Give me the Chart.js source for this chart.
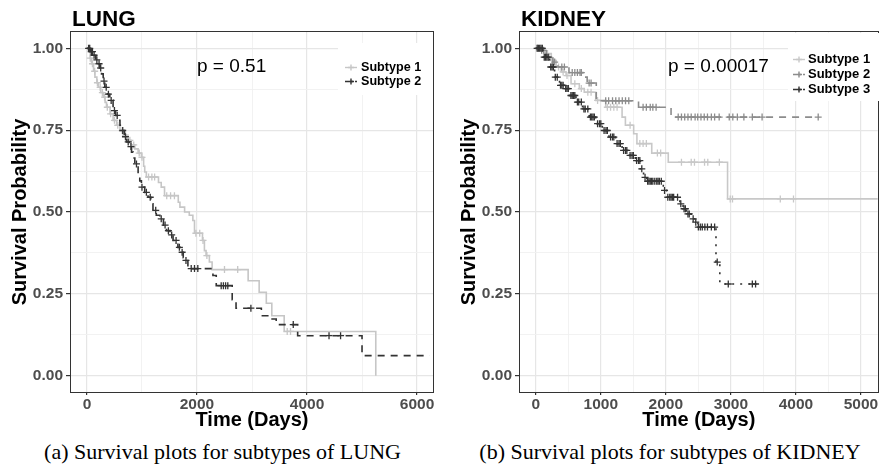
<!DOCTYPE html>
<html>
<head>
<meta charset="utf-8">
<script src="https://cdn.jsdelivr.net/npm/chart.js@4/dist/chart.umd.min.js"></script>
<style>
  body { margin: 0; background: #fff; width: 883px; height: 468px; position: relative; overflow: hidden; }
  .box { position: absolute; top: 0; }
  .box canvas { display: block; }
  .cap { position: absolute; top: 440px; font: 22px "Liberation Serif", serif; line-height: 24px; text-align: center; white-space: nowrap; color: #000; }
</style>
</head>
<body>
<div class="box" style="left:0"><canvas id="lung" width="441" height="434"></canvas></div>
<div class="box" style="left:441px"><canvas id="kidney" width="442" height="434"></canvas></div>
<div class="cap" style="left:0;width:445px">(a) Survival plots for subtypes of LUNG</div>
<div class="cap" style="left:449px;width:442px">(b) Survival plots for subtypes of KIDNEY</div>
<script>
// ---- LUNG ----
const lungS1Time = [0,25,60,85,120,145,180,205,250,295,330,355,420,475,540,600,660,720,800,870,930,990,1030,1050,1080,1300,1350,1410,1660,1690,1775,1860,1925,1955,2100,2135,2165,2225,2275,2930,3130,3260,3360,3585,5250];
const lungS1Surv = [1,0.99,0.97,0.953,0.93,0.912,0.895,0.881,0.865,0.851,0.835,0.82,0.80,0.78,0.765,0.749,0.735,0.719,0.705,0.693,0.68,0.667,0.64,0.622,0.607,0.59,0.576,0.55,0.53,0.515,0.5,0.49,0.474,0.435,0.413,0.382,0.367,0.347,0.324,0.29,0.255,0.221,0.183,0.135,0];
const lungS1Cens = [60,100,140,190,240,280,320,370,430,500,560,640,700,780,850,950,1000,1120,1180,1230,1450,1520,1590,1980,2050,2110,2180,2500,2740,3640,3700];

const lungS2Time = [0,60,115,160,205,235,265,295,325,370,415,475,520,570,600,630,680,720,770,810,840,870,930,960,990,1050,1110,1160,1200,1260,1325,1390,1445,1510,1565,1653,1714,1750,1774,1835,2290,2350,2640,2710,3170,3350,3440,3830,5000,6230];
const lungS2Surv = [1,0.99,0.979,0.965,0.953,0.94,0.922,0.9,0.881,0.86,0.841,0.81,0.795,0.78,0.765,0.749,0.73,0.714,0.7,0.683,0.665,0.647,0.616,0.595,0.576,0.56,0.545,0.525,0.505,0.49,0.479,0.46,0.443,0.43,0.413,0.392,0.377,0.36,0.352,0.327,0.306,0.275,0.232,0.206,0.183,0.173,0.156,0.122,0.061,0.061];
const lungS2Cens = [30,50,80,100,130,180,220,250,310,350,390,440,500,550,650,700,750,800,900,1000,1080,1150,1250,1350,1420,1480,1540,1620,1680,1730,1800,1895,1955,2015,2440,2480,2520,2560,2980,3750,4400,4610];

// ---- KIDNEY ----
const kidS1Time = [0,137,238,314,390,466,542,669,745,922,1075,1327,1378,1505,1555,1783,2037,2949,5300];
const kidS1Surv = [1,0.984,0.963,0.943,0.928,0.917,0.892,0.877,0.866,0.841,0.82,0.79,0.765,0.739,0.709,0.68,0.652,0.54,0.54];
const kidS1Cens = [60,100,180,260,350,420,480,600,700,800,850,950,1100,1150,1200,1250,1450,1600,1650,1700,1870,1920,2240,2390,2440,2595,2645,2823,2990,3025,3760,3963];

const kidS2Time = [0,61,162,263,340,510,745,790,930,1580,2080,4343];
const kidS2Surv = [1,0.994,0.973,0.958,0.943,0.926,0.912,0.894,0.84,0.82,0.79,0.79];
const kidS2Cens = [30,90,120,200,290,400,440,560,600,640,680,700,820,850,1075,1120,1180,1230,1280,1330,1380,1430,1650,1700,1760,1800,1850,2190,2240,2290,2340,2390,2450,2490,2540,2590,2640,2700,2750,2820,2975,3030,3100,3200,3330,3480,4343];

const kidS3Time = [0,111,213,289,365,441,517,618,719,821,922,1023,1125,1227,1327,1429,1530,1606,1657,1707,1961,2011,2215,2265,2316,2391,2442,2493,2771,2830,3404];
const kidS3Surv = [1,0.973,0.943,0.912,0.887,0.877,0.856,0.836,0.815,0.79,0.77,0.749,0.729,0.709,0.688,0.673,0.657,0.632,0.606,0.594,0.566,0.545,0.525,0.51,0.494,0.479,0.469,0.454,0.347,0.28,0.28];
const kidS3Cens = [20,40,60,80,100,130,150,170,190,230,250,270,300,330,380,400,420,460,480,500,540,560,580,600,640,660,700,740,760,800,840,860,880,900,950,980,1000,1050,1080,1100,1150,1180,1200,1250,1280,1300,1350,1380,1400,1450,1480,1500,1550,1580,1600,1630,1680,1720,1740,1760,1780,1800,1830,1860,1880,1900,1930,1980,2030,2060,2080,2100,2120,2180,2230,2280,2300,2340,2360,2420,2460,2500,2530,2560,2600,2640,2700,2750,2790,2960,3330,3380];

const yTicks = [0,0.125,0.25,0.375,0.5,0.625,0.75,0.875,1];
const lungXTicks = [0,1000,2000,3000,4000,5000,6000];
const kidXTicks = [0,500,1000,1500,2000,2500,3000,3500,4000,4500,5000];

const FONT = '"Liberation Sans", Arial, sans-serif';

function survAt(times, surv, t) {
  let s = surv[0];
  for (let i = 0; i < times.length; i++) if (times[i] <= t) s = surv[i];
  return s;
}

function curveSets(groups) {
  const sets = [];
  groups.forEach(g => {
    sets.push({
      type: 'line', label: g.label, isCurve: true,
      data: g.time.map((t, i) => ({ x: t, y: g.surv[i] })),
      borderColor: g.color, borderWidth: 1.6, borderDash: g.dash,
      stepped: true, pointRadius: 0, fill: false
    });
    sets.push({
      type: 'scatter', label: g.label + ' censored',
      data: g.cens.map(t => ({ x: t, y: survAt(g.time, g.surv, t) })),
      pointStyle: 'cross', pointRadius: 3.5, borderWidth: 1.3,
      borderColor: g.color, backgroundColor: g.color, showLine: false
    });
  });
  sets.forEach((s, i) => s.order = sets.length - i);
  return sets;
}

const decor = {
  id: 'decor',
  afterDraw(chart, args, o) {
    const ctx = chart.ctx, a = chart.chartArea;
    ctx.save();
    ctx.setLineDash([]);
    // panel border
    ctx.strokeStyle = '#333';
    ctx.lineWidth = 1;
    ctx.strokeRect(Math.round(a.left) - 0.5, Math.round(a.top) - 0.5,
      Math.round(a.right - a.left) + 1, Math.round(a.bottom - a.top) + 1);
    // title
    ctx.fillStyle = '#000';
    ctx.textAlign = 'left';
    ctx.textBaseline = 'alphabetic';
    ctx.font = 'bold 22.5px ' + FONT;
    ctx.fillText(o.title, a.left + 1, 26);
    // p value
    ctx.font = '19px ' + FONT;
    ctx.fillText(o.pText, o.pX, 72);
    // legend
    const b = o.box;
    ctx.fillStyle = '#fff';
    ctx.fillRect(b[0], b[1], b[2] - b[0], b[3] - b[1]);
    const items = chart.data.datasets.filter(d => d.isCurve);
    ctx.font = 'bold ' + o.legendSize + 'px ' + FONT;
    items.forEach((d, i) => {
      const base = o.legendY + i * o.legendStep;
      const y = Math.round(base - 4.5) + 0.5;
      ctx.strokeStyle = d.borderColor;
      ctx.lineWidth = 1.4;
      ctx.setLineDash(d.borderDash && d.borderDash.length ? [3, 2] : []);
      ctx.beginPath();
      ctx.moveTo(o.keyX - 6, y); ctx.lineTo(o.keyX + 6, y);
      ctx.stroke();
      ctx.setLineDash([]);
      ctx.beginPath();
      ctx.moveTo(o.keyX - 3, y); ctx.lineTo(o.keyX + 3, y);
      ctx.moveTo(o.keyX, y - 3); ctx.lineTo(o.keyX, y + 3);
      ctx.stroke();
      ctx.fillStyle = '#000';
      ctx.fillText(d.label, o.textX, base);
    });
    ctx.restore();
  }
};

function isMajorY(v) { return Math.abs(v * 4 - Math.round(v * 4)) < 1e-9; }

function makeChart(id, groups, xTicks, xMin, xMax, majorStep, padLeft, padRight, decorOpts) {
  const isMajorX = v => v % majorStep === 0;
  new Chart(document.getElementById(id), {
    data: { datasets: curveSets(groups) },
    plugins: [decor],
    options: {
      responsive: false,
      animation: false,
      devicePixelRatio: 1,
      layout: { padding: { left: padLeft, right: padRight, top: 32, bottom: 0 } },
      plugins: { legend: { display: false }, tooltip: { enabled: false }, decor: decorOpts },
      scales: {
        x: {
          type: 'linear', min: xMin, max: xMax,
          afterBuildTicks: s => { s.ticks = xTicks.map(v => ({ value: v })); },
          afterFit: s => { s.height = 42; },
          ticks: {
            autoSkip: false, maxRotation: 0, padding: 0,
            color: '#4d4d4d', font: { family: FONT, size: 15.5, weight: 'bold' },
            callback: v => isMajorX(v) ? String(v) : ''
          },
          grid: {
            color: c => (c.tick && isMajorX(c.tick.value)) ? '#e6e6e6' : '#f1f1f1',
            lineWidth: c => (c.tick && isMajorX(c.tick.value)) ? 1.2 : 0.9,
            tickColor: c => (c.tick && isMajorX(c.tick.value)) ? '#333' : 'rgba(0,0,0,0)',
            tickLength: 3
          },
          border: { display: false },
          title: {
            display: true, text: 'Time (Days)', color: '#000',
            font: { family: FONT, size: 20, weight: 'bold' }, padding: { top: 0, bottom: 2 }
          }
        },
        y: {
          type: 'linear', min: -0.05, max: 1.05,
          afterBuildTicks: s => { s.ticks = yTicks.map(v => ({ value: v })); },
          afterFit: s => { s.width = 71; },
          ticks: {
            padding: 3,
            color: '#4d4d4d', font: { family: FONT, size: 15.5, weight: 'bold' },
            callback: v => isMajorY(v) ? v.toFixed(2) : ''
          },
          grid: {
            color: c => (c.tick && isMajorY(c.tick.value)) ? '#e6e6e6' : '#f1f1f1',
            lineWidth: c => (c.tick && isMajorY(c.tick.value)) ? 1.2 : 0.9,
            tickColor: c => (c.tick && isMajorY(c.tick.value)) ? '#333' : 'rgba(0,0,0,0)',
            tickLength: 5
          },
          border: { display: false },
          title: {
            display: true, text: 'Survival Probability', color: '#000',
            font: { family: FONT, size: 20, weight: 'bold' }, padding: { top: 8, bottom: 0 }
          }
        }
      }
    }
  });
}

makeChart('lung', [
  { label: 'Subtype 1', time: lungS1Time, surv: lungS1Surv, cens: lungS1Cens, color: '#c6c6c6', dash: [] },
  { label: 'Subtype 2', time: lungS2Time, surv: lungS2Surv, cens: lungS2Cens, color: '#333333', dash: [7, 6] }
], lungXTicks, -290, 6290, 2000, 0, 8, {
  title: 'LUNG', pText: 'p = 0.51', pX: 197,
  box: [338, 43, 433, 95], keyX: 351, textX: 361, legendY: 71, legendStep: 14, legendSize: 12.6
});

makeChart('kidney', [
  { label: 'Subtype 1', time: kidS1Time, surv: kidS1Surv, cens: kidS1Cens, color: '#c8c8c8', dash: [] },
  { label: 'Subtype 2', time: kidS2Time, surv: kidS2Surv, cens: kidS2Cens, color: '#8c8c8c', dash: [7, 6] },
  { label: 'Subtype 3', time: kidS3Time, surv: kidS3Surv, cens: kidS3Cens, color: '#333333', dash: [2, 6] }
], kidXTicks, -243, 5258, 1000, 8, 1, {
  title: 'KIDNEY', pText: 'p = 0.00017', pX: 227,
  box: [347, 33, 441, 101], keyX: 358, textX: 367, legendY: 63, legendStep: 15, legendSize: 13
});
</script>
</body>
</html>
